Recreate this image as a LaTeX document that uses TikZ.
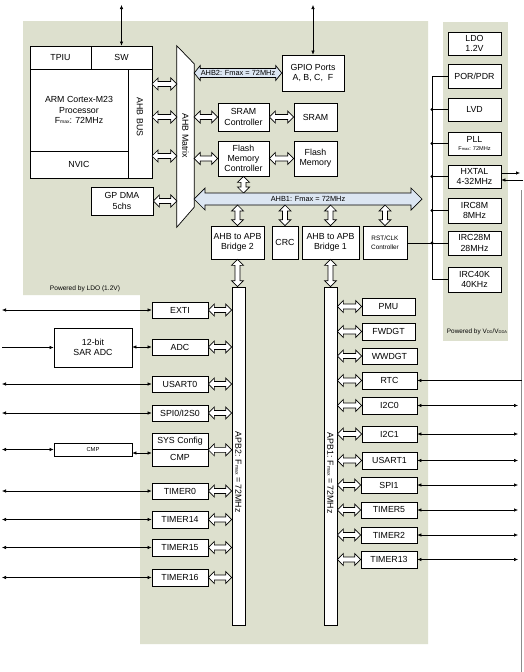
\documentclass[tikz,border=0pt]{standalone}
\usepackage{fontspec}
\setmainfont{Liberation Sans}
\usetikzlibrary{calc,arrows.meta}
\definecolor{bgreen}{RGB}{221,224,206}
\definecolor{busblue}{RGB}{220,230,242}
\newcommand\smtxt[1]{{\fontsize{5}{5}\selectfont #1}}
\newcommand\bx[7][]{\node[box,minimum width={(#5)-(#3)},minimum height={(#6)-(#4)},#1] (#2) at ({((#3)+(#5))/2},{((#4)+(#6))/2}) {#7};}
\tikzset{
  box/.style={draw, line width=0.7pt, fill=white, inner sep=0pt, align=center, font=\fontsize{8.8}{10.3}\selectfont},
  hb/.style n args={3}{draw, line width=0.7pt, fill=white, line join=miter, to path={let \p1=(\tikztostart), \p2=(\tikztotarget) in (\x1,\y1) -- (\x1+#1,\y1+#2) -- (\x1+#1,\y1+#3) -- (\x2-#1,\y1+#3) -- (\x2-#1,\y1+#2) -- (\x2,\y1) -- (\x2-#1,\y1-#2) -- (\x2-#1,\y1-#3) -- (\x1+#1,\y1-#3) -- (\x1+#1,\y1-#2) -- cycle}},
  vb/.style n args={3}{draw, line width=0.7pt, fill=white, line join=miter, to path={let \p1=(\tikztostart), \p2=(\tikztotarget) in (\x1,\y1) -- (\x1+#2,\y1-#1) -- (\x1+#3,\y1-#1) -- (\x1+#3,\y2+#1) -- (\x1+#2,\y2+#1) -- (\x1,\y2) -- (\x1-#2,\y2+#1) -- (\x1-#3,\y2+#1) -- (\x1-#3,\y1-#1) -- (\x1-#2,\y1-#1) -- cycle}},
  sblk/.style={hb={6pt}{6pt}{2.5pt}},
  vblk/.style={vb={6pt}{6pt}{2.5pt}},
  tarr/.style={line width=0.6pt, arrows={Latex[length=4pt,width=3.5pt]-Latex[length=4pt,width=3.5pt]}},
  tarrone/.style={line width=0.6pt, arrows={-Latex[length=4pt,width=3.5pt]}},
  wire/.style={line width=0.6pt},
  dot/.style={fill=black},
}
\begin{document}
\begin{tikzpicture}[x=1pt,y=-1pt]
\useasboundingbox[fill=white] (0,0) rectangle (523,672);
% backgrounds
\fill[bgreen] (23,21) -- (428,21) -- (428,644) -- (140,644) -- (140,295) -- (23,295) -- cycle;
\fill[bgreen] (443,22) rectangle (508,341);
\node[font=\fontsize{6.6}{7}\selectfont] (ldolbl) at (85,289) {Powered by LDO (1.2V)};
\node[font=\fontsize{6.4}{7}\selectfont] (vddlbl) at (477,332) {Powered by V{\fontsize{4}{4}\selectfont DD}/V{\fontsize{4}{4}\selectfont DDA}};
% CPU
\bx{tpiu}{30}{46}{91}{69}{TPIU}
\bx{sw}{91}{46}{152}{69}{SW}
\bx{core}{30}{69}{128}{151}{ARM Cortex-M23\\Processor\\F\smtxt{max}: 72MHz}
\bx{nvic}{30}{151}{128}{178}{NVIC}
\bx{ahbbus}{128}{69}{152}{178}{}
\node[rotate=-90, font=\fontsize{8.8}{10}\selectfont] (ahbbustxt) at (140,117) {AHB BUS};
\bx{gpdma}{91}{187}{153}{215}{GP DMA\\5chs}
% AHB matrix
\node[inner sep=0pt, minimum width=17, minimum height=181] (mx) at (185.5,136.5) {};
\draw[line width=0.7pt, fill=white] (mx.north west) -- ($(mx.north east)+(0,18)$) -- ($(mx.south east)+(0,-20)$) -- (mx.south west) -- cycle;
\node[rotate=-90, font=\fontsize{8.8}{10}\selectfont] (mxtxt) at (185.5,136) {AHB Matrix};
% memories and GPIO
\bx{gpio}{282}{55}{344}{91}{GPIO Ports\\A, B, C,\ \ F}
\bx{sramc}{218}{103}{269}{131}{SRAM\\Controller}
\bx{sram}{294}{103}{337}{131}{SRAM}
\bx{flashc}{218}{141}{269}{176}{Flash\\Memory\\Controller}
\bx{flash}{294}{141}{337}{176}{Flash\\Memory}
% bridges
\bx{brtwo}{211}{226}{264}{259}{AHB to APB\\Bridge 2}
\bx{crc}{272}{226}{298}{259}{CRC}
\bx{brone}{302}{226}{359}{259}{AHB to APB\\Bridge 1}
\bx[font=\fontsize{6.4}{8.5}\selectfont]{rst}{363}{226}{407}{259}{RST/CLK\\Controller}
% clock column
\bx{ldo}{448}{32}{501}{55}{LDO\\1.2V}
\bx{por}{448}{64}{501}{88}{POR/PDR}
\bx{lvd}{448}{98}{501}{121}{LVD}
\bx{pll}{448}{132}{501}{155}{PLL\\[-2pt]{\fontsize{5.6}{6}\selectfont F{\fontsize{4}{4}\selectfont max}: 72MHz}}
\bx{hxtal}{448}{165}{501}{188}{HXTAL\\4-32MHz}
\bx{irceight}{448}{198}{501}{223}{IRC8M\\8MHz}
\bx{irctwentyeight}{448}{231}{501}{255}{IRC28M\\28MHz}
\bx{ircforty}{448}{267}{501}{292}{IRC40K\\40KHz}
% APB buses
\bx{apbtwo}{232}{287}{245}{625}{}
\bx{apbone}{324}{287}{337}{625}{}
\node[rotate=-90, font=\fontsize{8.8}{10}\selectfont] (apbtwotxt) at (238.5,472) {APB2: F\smtxt{max} = 72MHz};
\node[rotate=-90, font=\fontsize{8.8}{10}\selectfont] (apbonetxt) at (330.5,473) {APB1: F\smtxt{max} = 72MHz};
% APB2 peripherals
\bx{exti}{152}{302}{208}{318}{EXTI}
\bx{sar}{54}{328}{132}{367}{12-bit\\SAR ADC}
\bx{adc}{152}{339}{208}{355}{ADC}
\bx{usartzero}{152}{376}{208}{392}{USART0}
\bx{spizero}{152}{405}{208}{421}{SPI0/I2S0}
\bx{sys}{152}{433}{208}{449.5}{SYS Config}
\bx{cmpb}{152}{449.5}{208}{466}{CMP}
\bx[font=\fontsize{5.8}{6}\selectfont]{cmps}{54}{443}{132}{456}{CMP}
\bx{tzero}{152}{483}{208}{499}{TIMER0}
\bx{tfourteen}{152}{511}{208}{528}{TIMER14}
\bx{tfifteen}{152}{539}{208}{556}{TIMER15}
\bx{tsixteen}{152}{569}{208}{586}{TIMER16}
% APB1 peripherals
\bx{pmu}{362}{298}{415}{315}{PMU}
\bx{fwdgt}{362}{323}{415}{340}{FWDGT}
\bx{wwdgt}{362}{348}{417}{364}{WWDGT}
\bx{rtc}{362}{372}{417}{389}{RTC}
\bx{iicz}{362}{397}{417}{414}{I2C0}
\bx{iico}{362}{426}{417}{442}{I2C1}
\bx{usartone}{362}{452}{417}{469}{USART1}
\bx{spione}{361}{477}{417}{493}{SPI1}
\bx{tfive}{361}{502}{417}{518}{TIMER5}
\bx{ttwo}{361}{527}{417}{543}{TIMER2}
\bx{tthirteen}{361}{551}{417}{568}{TIMER13}
% helper coordinates
\coordinate (topy) at (0,5);
\coordinate (le) at (2,0);
\coordinate (re) at (518,0);
\coordinate (rex) at (521.5,0);
\coordinate (tr) at (432,0);
\coordinate (ca) at (152,84);
\coordinate (cb) at (152,117);
\coordinate (cc) at (152,156);
\coordinate (ahbtwoy) at (0,73);
\coordinate (ahbonel) at (194,199);
\coordinate (ahboner) at (422,199);
\coordinate (ahbonetop) at (0,193);
\coordinate (ahbonebot) at (0,205);
\coordinate (yc) at (0,453);
\coordinate (hxo) at (520,173);
\coordinate (hxi) at (523,180);
% block arrows
\draw[sblk] (ca) to (ca -| mx.west);
\draw[sblk] (cb) to (cb -| mx.west);
\draw[sblk] (cc) to (cc -| mx.west);
\draw[sblk] (gpdma.east) to (gpdma.east -| mx.west);
\draw[sblk] (mx.east |- sramc.west) to (sramc.west);
\draw[sblk] (sramc.east) to (sram.west);
\draw[sblk] (mx.east |- flashc.west) to (flashc.west);
\draw[sblk] (flashc.east) to (flash.west);
\draw[vblk] (flashc.south) to (flashc.south |- ahbonetop);
\draw[hb={6pt}{7.5pt}{4.5pt}, fill=busblue] (mx.east |- ahbtwoy) to (gpio.west |- ahbtwoy);
\node[font=\fontsize{7.4}{8}\selectfont] (ahbtwotxt) at (238,73) {AHB2: Fmax = 72MHz};
\draw[hb={11pt}{11pt}{6pt}, fill=busblue] (ahbonel) to (ahboner);
\node[font=\fontsize{7.4}{8}\selectfont] (ahbonetxt) at (308,199) {AHB1: Fmax = 72MHz};
\foreach \b in {brtwo,crc,brone,rst} {\draw[vblk] (\b.north |- ahbonebot) to (\b.north);}
\draw[vblk] (brtwo.south) to (brtwo.south |- apbtwo.north);
\draw[vblk] (brone.south) to (brone.south |- apbone.north);
\foreach \b in {exti,adc,usartzero,spizero,tzero,tfourteen,tfifteen,tsixteen} {\draw[sblk] (\b.east) to (\b.east -| apbtwo.west);}
\draw[sblk] (sys.south east) to (sys.south east -| apbtwo.west);
\foreach \b in {pmu,fwdgt,wwdgt,rtc,iicz,iico,usartone,spione,tfive,ttwo,tthirteen} {\draw[sblk] (\b.west -| apbone.east) to (\b.west);}
% thin external connections
\draw[tarr] (sw.north |- topy) -- (sw.north);
\draw[tarr] (gpio.north |- topy) -- (gpio.north);
\foreach \b in {exti,usartzero,spizero,cmps,tzero,tfourteen,tfifteen,tsixteen} {\draw[tarr] (\b.west -| le) -- (\b.west);}
\draw[tarrone] (sar.west -| le) -- (sar.west);
\draw[tarr] (sar.east |- adc.west) -- (adc.west);
\draw[tarr] (cmps.east |- yc) -- (cmpb.west |- yc);
\draw[line width=0.6pt, black!45] (521.5,190) -- (521.5,672);
\draw[tarrone] (rtc.east -| rex) -- (rtc.east);
\foreach \b in {iicz,iico,usartone,spione,tfive,ttwo,tthirteen} {\draw[tarr] (\b.east) -- (\b.east -| re);}
\draw[tarrone] (hxtal.east |- hxo) -- (hxo);
\draw[tarrone] (hxi) -- (hxtal.east |- hxi);
% clock tree
\draw[wire] (por.west) -- (por.west -| tr) -- (ircforty.west -| tr) -- (ircforty.west);
\foreach \b in {lvd,pll,hxtal,irceight,irctwentyeight} {\draw[wire] (\b.west -| tr) -- (\b.west); \fill[dot] (\b.west -| tr) circle (1.6pt);}
\draw[wire] (rst.east |- irctwentyeight.west) -- (irctwentyeight.west -| tr);
\end{tikzpicture}
\end{document}
